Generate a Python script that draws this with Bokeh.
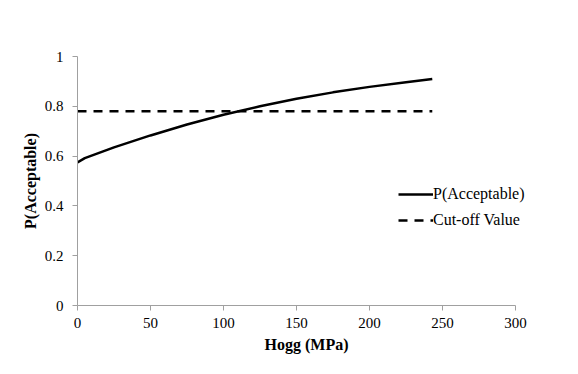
from bokeh.plotting import figure
from bokeh.models import Legend, LegendItem, FixedTicker
from bokeh.embed import file_html
from bokeh.resources import INLINE

hogg = [0, 5, 25, 50, 75, 100, 125, 150, 175, 200, 225, 243]
p_acceptable = [0.575, 0.592, 0.635, 0.683, 0.727, 0.766, 0.800, 0.830, 0.856, 0.878, 0.897, 0.910]
cutoff_x = [0, 243]
cutoff_y = [0.78, 0.78]
x_ticks = [0, 50, 100, 150, 200, 250, 300]
y_ticks = [0, 0.2, 0.4, 0.6, 0.8, 1]
y_tick_labels = {0: "0", 0.2: "0.2", 0.4: "0.4", 0.6: "0.6", 0.8: "0.8", 1: "1"}

FONT = "Liberation Serif"

# frame extends a little past x=300 so the legend is not clipped; axis stops at 300
p = figure(width=562, height=358, output_backend="svg", toolbar_location=None,
           x_range=(0, 313.7), y_range=(0, 1),
           min_border_left=77, min_border_right=27, min_border_top=56, min_border_bottom=53)
p.outline_line_color = None
p.xgrid.visible = False
p.ygrid.visible = False
p.background_fill_color = "white"
p.border_fill_color = "white"

l1 = p.line(hogg, p_acceptable, line_color="black", line_width=2.5)
l2 = p.line(cutoff_x, cutoff_y, line_color="black", line_width=2.5, line_dash="9 7")

for ax in (p.xaxis[0], p.yaxis[0]):
    ax.axis_line_color = "#a0a0a0"
    ax.axis_line_width = 1
    ax.major_tick_line_color = "#a0a0a0"
    ax.major_tick_out = 5
    ax.major_tick_in = 0
    ax.minor_tick_line_color = None
    ax.major_label_text_font = FONT
    ax.major_label_text_font_size = "15px"
    ax.major_label_text_color = "black"
    ax.axis_label_text_font = FONT
    ax.axis_label_text_font_size = "16px"
    ax.axis_label_text_font_style = "bold"
    ax.axis_label_text_color = "black"

p.xaxis.bounds = (0, 300)
p.xaxis.ticker = FixedTicker(ticks=x_ticks)
p.yaxis.ticker = FixedTicker(ticks=y_ticks)
p.yaxis.major_label_overrides = y_tick_labels
p.xaxis.axis_label = "Hogg (MPa)"
p.yaxis.axis_label = "P(Acceptable)"
p.xaxis.major_label_standoff = 7
p.yaxis.major_label_standoff = 9
p.xaxis.axis_label_standoff = 5
p.yaxis.axis_label_standoff = 3

legend = Legend(items=[LegendItem(label="P(Acceptable)", renderers=[l1]),
                       LegendItem(label="Cut-off Value", renderers=[l2])],
                location=(321, 75))
legend.border_line_color = None
legend.background_fill_alpha = 0
legend.label_text_font = FONT
legend.label_text_font_size = "16px"
legend.label_text_color = "black"
legend.glyph_width = 35
legend.glyph_height = 20
legend.label_height = 20
legend.label_standoff = 0
legend.spacing = 6
legend.padding = 0
legend.margin = 0
p.add_layout(legend, "center")

open("out.html", "w").write(file_html(p, INLINE))
